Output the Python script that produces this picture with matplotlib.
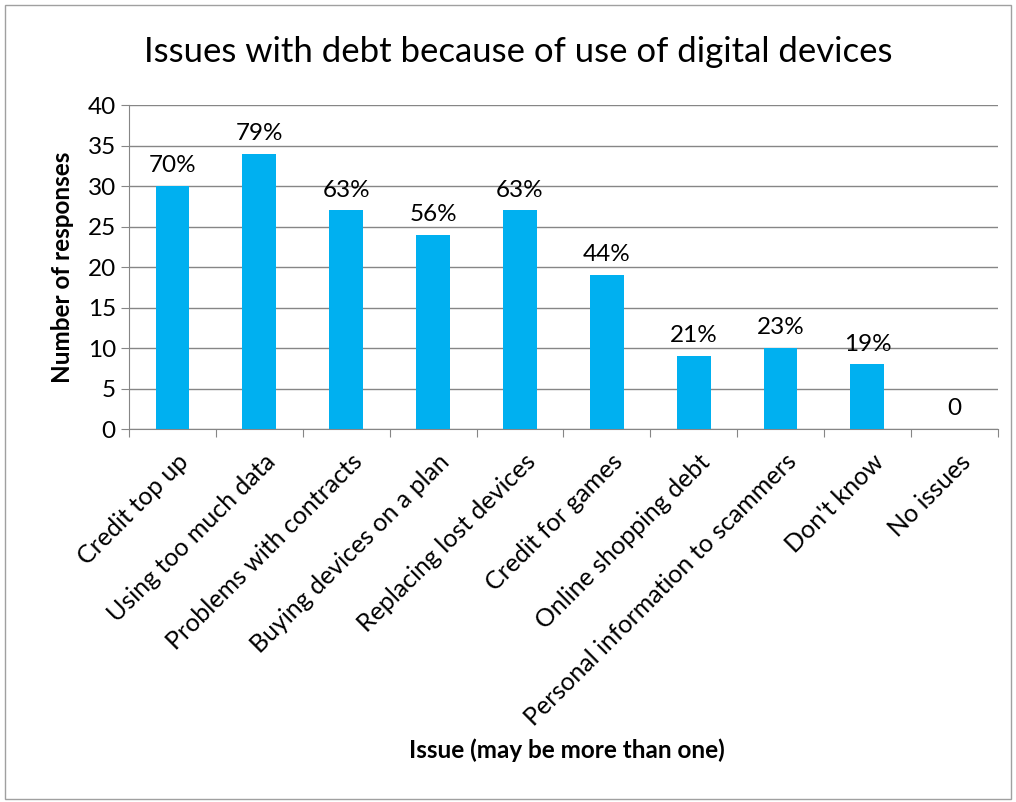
import numpy as np
import matplotlib.pyplot as plt
from matplotlib.patches import Rectangle

# Данные
issues = ['Credit top up', 'Using too much data', 'Problems with contracts',
          'Buying devices on a plan', 'Replacing lost devices', 'Credit for games',
          'Online shopping debt', 'Personal information to scammers',
          "Don't know", 'No issues']
responses = [30, 34, 27, 24, 27, 19, 9, 10, 8, 0]
labels = ['70%', '79%', '63%', '56%', '63%', '44%', '21%', '23%', '19%', '0']

plt.rcParams['font.family'] = ['Lato', 'DejaVu Sans']
grid_color = '#868686'

fig = plt.figure(figsize=(10.16, 8.02), dpi=100)
ax = fig.add_axes([0.127, 0.465, 0.855, 0.404])

x = np.arange(len(issues))
ax.bar(x, responses, width=0.39, color='#00B0F0', zorder=3)
for xi, v, lab in zip(x, responses, labels):
    ax.annotate(lab, (xi, v), xytext=(0, 7), textcoords='offset points',
                ha='center', va='bottom', fontsize=17.5)

ax.set_xlim(-0.5, len(issues) - 0.5)
ax.set_ylim(0, 40)
ax.set_yticks(range(0, 41, 5))
ax.yaxis.grid(True, color=grid_color, lw=1)
ax.set_axisbelow(True)

# подписи категорий - вручную, тики на границах
ax.set_xticks(np.arange(len(issues) + 1) - 0.5)
ax.set_xticklabels([])
ax.tick_params(axis='x', length=6, color=grid_color)
ax.tick_params(axis='y', length=6, color=grid_color, labelsize=17.5)
for xi, name in zip(x, issues):
    ax.annotate(name, (xi, 0), xytext=(3, -15), textcoords='offset points',
                rotation=45, ha='right', va='top', fontsize=18,
                rotation_mode='anchor')

for s in ['top', 'right']:
    ax.spines[s].set_visible(False)
for s in ['left', 'bottom']:
    ax.spines[s].set_color(grid_color)

ax.set_ylabel('Number of responses', fontsize=17.5, fontweight='bold', labelpad=10)
fig.text(0.558, 0.055, 'Issue (may be more than one)', ha='center',
         fontsize=17.5, fontweight='bold')
fig.text(0.51, 0.935, 'Issues with debt because of use of digital devices',
         ha='center', va='center', fontsize=25)

fig.patches.append(Rectangle((0.005, 0.004), 0.99, 0.99, transform=fig.transFigure,
                             fill=False, edgecolor='#a0a0a0', lw=1))

fig.savefig('out.png', dpi=100)
